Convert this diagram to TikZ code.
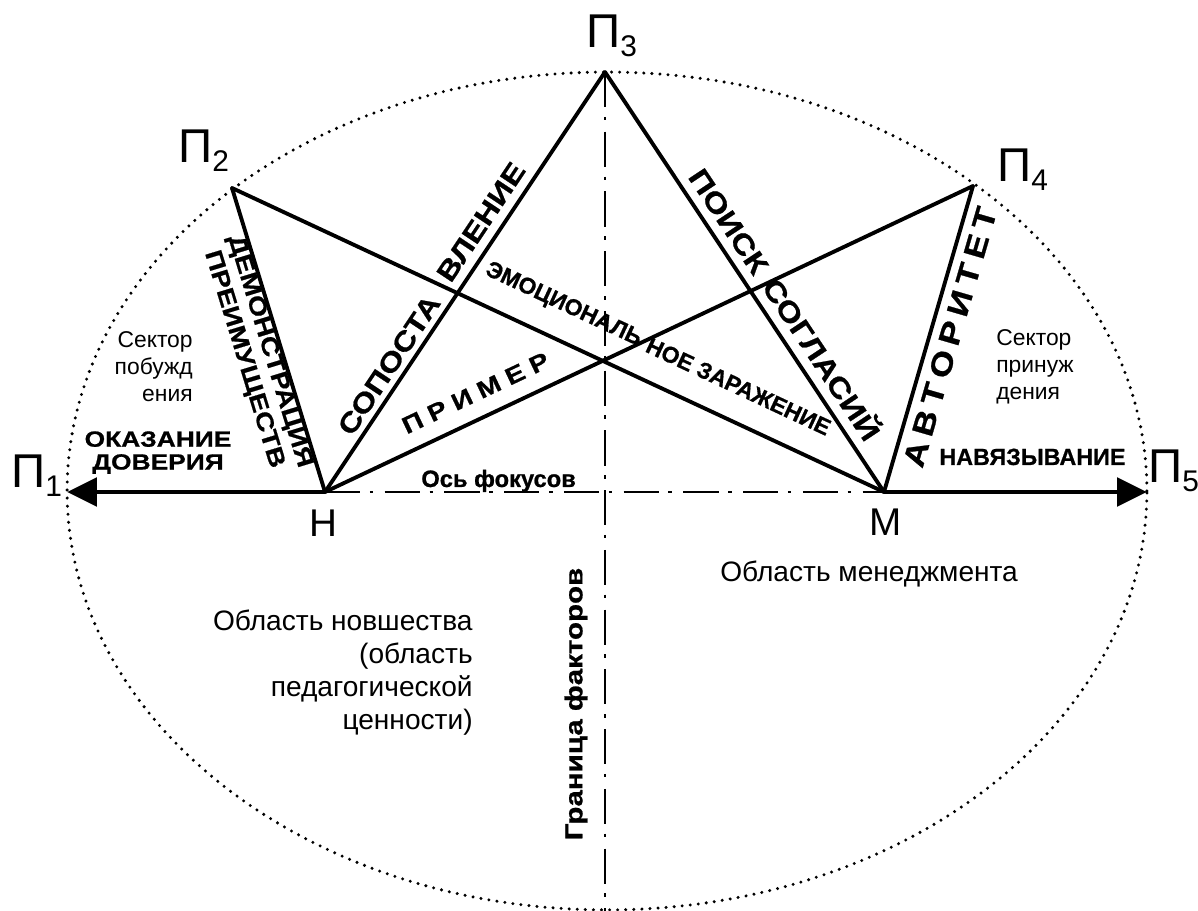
\documentclass[tikz,border=0pt]{standalone}
\usepackage{fontspec}
\setmainfont{Liberation Sans}
\newfontfamily\bwide{Liberation Sans}[FakeStretch=1.2, FakeBold=0.8]
\newfontfamily\bnorm{Liberation Sans}[FakeBold=0.8]
\usetikzlibrary{arrows.meta}
\newcommand\Pn[1]{{\fontsize{27}{27}\selectfont П}{\fontsize{17}{17}\selectfont\raisebox{-5pt}{#1}}}
\begin{document}
\begin{tikzpicture}[x=0.02cm, y=-0.02cm,
  tri/.style={line width=2.2pt, line cap=round, line join=round},
  arr/.style={line width=2.8pt, -{Triangle[length=17pt,width=16pt]}},
  dd/.style={line width=1.6pt, dash pattern=on 20pt off 5.5pt on 2pt off 6.5pt},
  dots/.style={line width=1.9pt, line cap=round, dash pattern=on 0pt off 4.6pt},
  lb/.style={inner sep=0pt},
  wb/.style={inner sep=0pt, font=\bwide\bfseries\fontsize{#1}{#1}\selectfont},
  nb/.style={inner sep=0pt, font=\bnorm\bfseries\fontsize{#1}{#1}\selectfont},
  rg/.style={inner sep=0pt, font=\fontsize{#1}{#1}\selectfont}]
\fill[white] (0,0) rectangle (1198,911);
\useasboundingbox (0,0) rectangle (1198,911);

% points
\coordinate (P1) at (67,492);
\coordinate (P2) at (232,188);
\coordinate (P3) at (605,72);
\coordinate (P4) at (973,186);
\coordinate (P5) at (1147,492);
\coordinate (H) at (325,492);
\coordinate (M) at (884,492);
\coordinate (B) at (605,911);

% ellipse
\draw[dots] (607,491) ellipse [x radius=10.8cm, y radius=8.38cm];

% axes
\draw[dd] (P3) -- (B);
\draw[dd] (H) -- (M);

% lines
\draw[tri] (H) -- (P2);
\draw[tri] (H) -- (P3);
\draw[tri] (H) -- (P4);
\draw[tri] (M) -- (P2);
\draw[tri] (M) -- (P3);
\draw[tri] (M) -- (P4);
\draw[arr] (H) -- (P1);
\draw[arr] (M) -- (P5);

% point labels
\node[lb, anchor=base west] (lP1) at (11,488) {\Pn{1}};
\node[lb, anchor=base west] (lP2) at (178,163) {\Pn{2}};
\node[lb, anchor=base west] (lP3) at (586,48) {\Pn{3}};
\node[lb, anchor=base west] (lP4) at (997,182) {\Pn{4}};
\node[lb, anchor=base west] (lP5) at (1148,483) {\Pn{5}};
\node[rg=22, anchor=base west] (lH) at (309,537) {Н};
\node[rg=22, anchor=base west] (lM) at (869,536) {М};

% line labels
\node[lb, rotate=-73, align=center, font=\bwide\bfseries\fontsize{13.5}{15.3}\selectfont] (demo) at (256.5,355.5) {ДЕМОНСТРАЦИЯ\\ПРЕИМУЩЕСТВ};
\node[wb=15.5, rotate=56.3] (sop1) at (389,365) {СОПОСТА};
\node[wb=15.5, rotate=56.3] (sop2) at (481,222) {ВЛЕНИЕ};
\node[wb=13.5, rotate=25.3] (prim) at (475.5,393) {П\hspace{.32em}Р\hspace{.32em}И\hspace{.32em}М\hspace{.32em}Е\hspace{.32em}Р};
\node[nb=13, rotate=-25] (emo1) at (563.5,305) {ЭМОЦИОНАЛЬ};
\node[nb=13, rotate=-25] (emo2) at (738.5,386.5) {НОЕ ЗАРАЖЕНИЕ};
\node[wb=16, rotate=-56.4] (poisk) at (728.5,221.5) {ПОИСК};
\node[wb=16, rotate=-56.4] (sogl) at (823.5,358) {СОГЛАСИЙ};
\node[wb=17, rotate=73.8] (avt) at (950,337) {А\hspace{.21em}В\hspace{.21em}Т\hspace{.21em}О\hspace{.21em}Р\hspace{.21em}И\hspace{.21em}Т\hspace{.21em}Е\hspace{.21em}Т};

% other labels
\node[lb, align=center, anchor=north, font=\bwide\bfseries\fontsize{12.5}{13}\selectfont] (okaz) at (158,431) {ОКАЗАНИЕ\\ДОВЕРИЯ};
\node[nb=13.3, anchor=base west] (nav) at (939,465) {НАВЯЗЫВАНИЕ};
\node[nb=13.5, anchor=base west] (os) at (421,487) {Ось фокусов};
\node[wb=14, rotate=90] (gran) at (576,704) {Граница факторов};
\node[lb, align=right, anchor=north east, font=\fontsize{13}{15.5}\selectfont] (sec1) at (193,331) {Сектор\\побужд\\ения};
\node[lb, align=left, anchor=north west, font=\fontsize{13}{15.5}\selectfont] (sec2) at (996,329) {Сектор\\принуж\\дения};
\node[lb, align=right, anchor=north east, font=\fontsize{16}{18.7}\selectfont] (obl1) at (473,610) {Область новшества\\(область\\педагогической\\ценности)};
\node[rg=16, anchor=base west] (obl2) at (720,582) {Область менеджмента};
\end{tikzpicture}
\end{document}
